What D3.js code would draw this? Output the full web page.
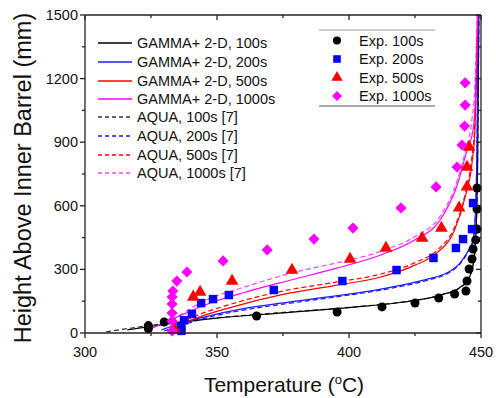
<!DOCTYPE html>
<html><head><meta charset="utf-8">
<script src="https://cdn.jsdelivr.net/npm/d3@7"></script>
<style>body{margin:0;background:#fff}svg text{font-family:Arial,"Liberation Sans",sans-serif}</style>
</head><body><svg id="c" width="496" height="398"></svg>
<script>
// ---- data ----
const xTicks = [300, 350, 400, 450];
const yTicks = [0, 300, 600, 900, 1200, 1500];

const gamma100T = [316, 330, 350, 375, 400, 420, 435, 442, 445, 447, 448, 448.7, 449.2];
const gamma100H = [15, 40, 70, 95, 120, 145, 180, 215, 250, 320, 450, 800, 1500];
const aqua100T  = [308, 320, 335, 350, 375, 400, 420, 435, 442, 445, 447, 448, 448.7, 449.2];
const aqua100H  = [5, 28, 52, 72, 97, 121, 146, 180, 214, 248, 318, 445, 790, 1500];

const gamma200T = [329, 336, 345, 360, 375, 395, 412, 430, 437, 442, 445, 447, 448, 448.5, 449];
const gamma200H = [15, 45, 75, 115, 142, 175, 207, 255, 283, 330, 385, 440, 600, 900, 1500];
const aqua200T  = [330, 337, 345, 360, 375, 395, 412, 430, 437, 442, 445, 447, 448, 448.5, 449];
const aqua200H  = [10, 38, 68, 108, 136, 170, 202, 250, 278, 325, 380, 435, 590, 890, 1500];

const gamma500T = [332, 340, 355, 375, 395, 412, 425, 433.5, 440, 444, 446.6, 447.7, 448.3, 448.8];
const gamma500H = [15, 60, 120, 182, 225, 264, 320, 380, 486, 642, 802, 958, 1200, 1500];
const aqua500T  = [333, 340, 355, 375, 395, 412, 425, 433.5, 440, 444, 446.4, 447.6, 448.3, 448.8];
const aqua500H  = [25, 70, 135, 198, 240, 278, 332, 392, 500, 655, 815, 975, 1220, 1500];

const gamma1000T = [325, 333, 345, 360, 378, 395, 412, 425, 434.5, 441, 444.7, 447, 448, 448.7];
const gamma1000H = [20, 65, 130, 190, 250, 305, 368, 440, 533, 698, 863, 958, 1150, 1500];
const aqua1000T  = [333, 345, 360, 378, 395, 412, 425, 434.5, 441, 444.5, 446.5, 447.8, 448.5];
const aqua1000H  = [60, 150, 215, 282, 330, 385, 455, 550, 720, 880, 1000, 1200, 1500];

const exp100T = [324, 324, 330, 365, 395.5, 412.5, 425, 434, 440, 444.3, 444.7, 445.5, 446.6, 447, 448, 448.5, 448.5, 448.5];
const exp100H = [20, 35, 52, 80, 99, 123, 141, 165, 184, 198, 245, 302, 349, 396, 439, 490, 585, 684];

const exp200T = [336.5, 336.5, 337.5, 340.5, 344, 348.5, 354.5, 371.5, 397.5, 418, 432, 440.5, 443.2, 446.6, 447];
const exp200H = [10, 30, 60, 90, 141, 160, 179, 203, 245, 297, 354, 401, 443, 490, 613];

const exp500T = [334, 341, 343.6, 355.7, 378.4, 400.4, 414, 427.7, 435, 441.7, 444.7, 444.7, 445.5];
const exp500H = [15, 170, 193, 245, 297, 349, 401, 448, 495, 590, 689, 783, 877];

const exp1000T = [333, 333, 333, 333, 333, 333.3, 334.8, 338.6, 352.3, 369, 386.7, 401.5, 419.7, 433, 440.9, 442.8, 443.8, 444, 444];
const exp1000H = [10, 57, 94, 137, 170, 198, 245, 288, 340, 392, 443, 495, 590, 689, 783, 887, 976, 1075, 1180];

const lineSeries = [
  {name: "GAMMA+ 2-D, 100s", T: gamma100T, H: gamma100H, color: "#000000", dash: null},
  {name: "GAMMA+ 2-D, 200s", T: gamma200T, H: gamma200H, color: "#1a1aff", dash: null},
  {name: "GAMMA+ 2-D, 500s", T: gamma500T, H: gamma500H, color: "#ff0000", dash: null},
  {name: "GAMMA+ 2-D, 1000s", T: gamma1000T, H: gamma1000H, color: "#ff00ff", dash: null},
  {name: "AQUA, 100s [7]", T: aqua100T, H: aqua100H, color: "#333333", dash: "5,3"},
  {name: "AQUA, 200s [7]", T: aqua200T, H: aqua200H, color: "#1a1aff", dash: "5,3"},
  {name: "AQUA, 500s [7]", T: aqua500T, H: aqua500H, color: "#ff0000", dash: "5,3"},
  {name: "AQUA, 1000s [7]", T: aqua1000T, H: aqua1000H, color: "#ff44ff", dash: "5,3"}
];
const expSeries = [
  {name: "Exp. 100s", T: exp100T, H: exp100H, color: "#000000", sym: d3.symbolCircle, size: 64, rot: 0},
  {name: "Exp. 200s", T: exp200T, H: exp200H, color: "#0000ff", sym: d3.symbolSquare, size: 72, rot: 0},
  {name: "Exp. 500s", T: exp500T, H: exp500H, color: "#ff0000", sym: d3.symbolTriangle, size: 70, rot: 0},
  {name: "Exp. 1000s", T: exp1000T, H: exp1000H, color: "#ff00ff", sym: d3.symbolSquare, size: 62, rot: 45}
];

// ---- layout ----
const svg = d3.select("#c");
const L = 85, R = 481, T0 = 15, B = 333;
const x = d3.scaleLinear().domain([300, 450]).range([L, R]);
const y = d3.scaleLinear().domain([0, 1500]).range([B, T0]);

svg.append("defs").append("clipPath").attr("id", "clip")
  .append("rect").attr("x", L).attr("y", T0).attr("width", R - L).attr("height", B - T0);

const plot = svg.append("g").attr("clip-path", "url(#clip)");
const line = d3.line().x(d => x(d[0])).y(d => y(d[1])).curve(d3.curveMonotoneX);

[...lineSeries.slice(4), ...lineSeries.slice(0, 4)].forEach(s => {
  plot.append("path").datum(s.T.map((t, i) => [t, s.H[i]]))
    .attr("d", line).attr("fill", "none").attr("stroke", s.color)
    .attr("stroke-width", 1.2).attr("stroke-dasharray", s.dash);
});

const pts = svg.append("g");
expSeries.forEach(s => {
  pts.selectAll(null).data(s.T.map((t, i) => [t, s.H[i]])).enter().append("path")
    .attr("d", d3.symbol().type(s.sym).size(s.size))
    .attr("transform", d => `translate(${x(d[0])},${y(d[1])}) rotate(${s.rot})`)
    .attr("fill", s.color);
});

// ---- axes ----
const axCol = "#222";
const minorX = d3.range(300, 451, 25);
const minorY = d3.range(0, 1501, 150);
const ax = svg.append("g").attr("stroke", axCol).attr("stroke-width", 1.3);
ax.append("line").attr("x1", L).attr("x2", R).attr("y1", B).attr("y2", B);
ax.append("line").attr("x1", L).attr("x2", R).attr("y1", T0).attr("y2", T0);
ax.append("line").attr("x1", L).attr("x2", L).attr("y1", T0).attr("y2", B);
ax.append("line").attr("x1", R).attr("x2", R).attr("y1", T0).attr("y2", B);
minorX.forEach(v => {
  const major = v % 50 === 0;
  ax.append("line").attr("x1", x(v)).attr("x2", x(v)).attr("y1", B).attr("y2", B + (major ? 5 : 3));
  ax.append("line").attr("x1", x(v)).attr("x2", x(v)).attr("y1", T0).attr("y2", T0 + (major ? 5 : 3));
});
minorY.forEach(v => {
  const major = v % 300 === 0;
  ax.append("line").attr("y1", y(v)).attr("y2", y(v)).attr("x1", L).attr("x2", L - (major ? 5 : 3));
  ax.append("line").attr("y1", y(v)).attr("y2", y(v)).attr("x1", R).attr("x2", R - (major ? 5 : 3));
});

svg.selectAll(null).data(xTicks).enter().append("text")
  .attr("x", d => x(d)).attr("y", B + 24).attr("text-anchor", "middle")
  .attr("font-size", 14.5).attr("fill", "#111").text(d => d);
svg.selectAll(null).data(yTicks).enter().append("text")
  .attr("x", L - 7).attr("y", d => y(d) + 5).attr("text-anchor", "end")
  .attr("font-size", 14.5).attr("fill", "#111").text(d => d);

const xt = svg.append("text").attr("x", 284).attr("y", 392).attr("text-anchor", "middle")
  .attr("font-size", 21).attr("fill", "#111");
xt.append("tspan").text("Temperature (");
xt.append("tspan").attr("font-size", 13).attr("dy", -8).text("o");
xt.append("tspan").attr("dy", 8).text("C)");
svg.append("text").attr("transform", "translate(31,178) rotate(-90)")
  .attr("text-anchor", "middle").attr("font-size", 23.5).attr("fill", "#111")
  .text("Height Above Inner Barrel (mm)");

// ---- legends ----
const legY = [43, 62, 81, 99, 117, 136, 155, 173];
const lg = svg.append("g");
lineSeries.forEach((s, i) => {
  lg.append("line").attr("x1", 98).attr("x2", 132).attr("y1", legY[i]).attr("y2", legY[i])
    .attr("stroke", s.color).attr("stroke-width", 1.3).attr("stroke-dasharray", s.dash ? "4,3" : null);
  lg.append("text").attr("x", 137).attr("y", legY[i] + 5).attr("font-size", 14.5).attr("fill", "#111").text(s.name);
});
const leg2Y = [40.5, 59, 77.5, 96];
lg.append("line").attr("x1", 319).attr("x2", 435).attr("y1", 30).attr("y2", 30).attr("stroke", "#999").attr("stroke-width", 1);
lg.append("line").attr("x1", 319).attr("x2", 435).attr("y1", 106).attr("y2", 106).attr("stroke", "#555").attr("stroke-width", 1);
expSeries.forEach((s, i) => {
  lg.append("path").attr("d", d3.symbol().type(s.sym).size(s.size * 0.8))
    .attr("transform", `translate(337,${leg2Y[i]}) rotate(${s.rot})`).attr("fill", s.color);
  lg.append("text").attr("x", 359).attr("y", leg2Y[i] + 5).attr("font-size", 14.5).attr("fill", "#111").text(s.name);
});
</script></body></html>
